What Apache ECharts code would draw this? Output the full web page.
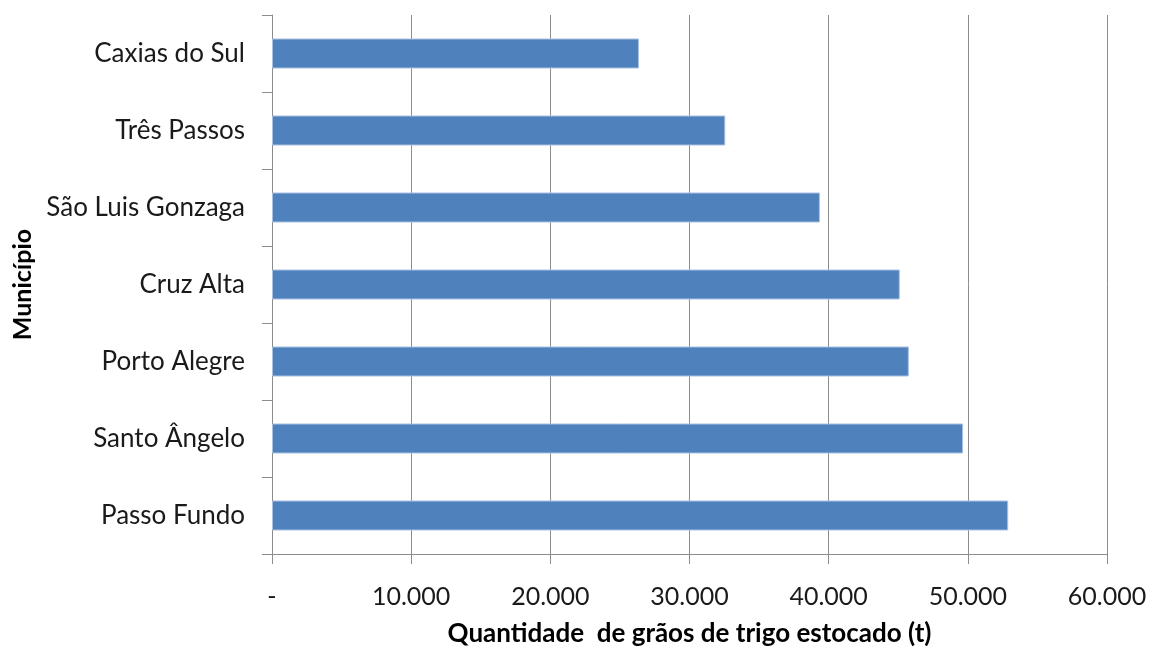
<!DOCTYPE html>
<html><head><meta charset="utf-8">
<script src="https://cdn.jsdelivr.net/npm/echarts@6/dist/echarts.min.js"></script>
<style>html,body{margin:0;padding:0;background:#fff}#c{width:1153px;height:648px}</style>
</head><body><div id="c"></div>
<script>
const categories = ["Passo Fundo","Santo Ângelo","Porto Alegre","Cruz Alta","São Luis Gonzaga","Três Passos","Caxias do Sul"];
const values = [52900, 49660, 45760, 45110, 39370, 32570, 26370];
const xTicks = [0, 10000, 20000, 30000, 40000, 50000, 60000];
const xTitle = "Quantidade  de grãos de trigo estocado (t)";
const yTitle = "Município";

function fmt(v){ if(v===0) return "-"; return String(v).replace(/\B(?=(\d{3})+(?!\d))/g, "."); }
const FONT = "Lato";
const chart = echarts.init(document.getElementById('c'));
chart.setOption({
  animation:false,
  grid:{left:272, top:15, right:46, bottom:94, containLabel:false, outerBoundsMode:'none'},
  xAxis:{
    type:'value', min:xTicks[0], max:xTicks[xTicks.length-1], interval:10000,
    axisLine:{show:true, lineStyle:{color:'#8c8c8c', width:1}},
    axisTick:{show:true, length:10, lineStyle:{color:'#8c8c8c'}},
    splitLine:{show:true, lineStyle:{color:'#8c8c8c', width:1}},
    axisLabel:{formatter:fmt, fontFamily:FONT, fontSize:25, color:'#1a1a1a', margin:30},
    name:xTitle, nameLocation:'middle', nameGap:67,
    nameTextStyle:{fontFamily:FONT, fontWeight:'bold', fontSize:26, color:'#000'}
  },
  yAxis:{
    type:'category', data:categories,
    axisLine:{show:true, lineStyle:{color:'#8c8c8c', width:1}},
    axisTick:{show:true, length:10, lineStyle:{color:'#8c8c8c'}},
    axisLabel:{fontFamily:FONT, fontSize:26, color:'#1a1a1a', margin:27},
    name:yTitle, nameLocation:'middle', nameGap:237, nameRotate:90,
    nameTextStyle:{fontFamily:FONT, fontWeight:'bold', fontSize:25, color:'#000'}
  },
  series:[{
    type:'bar', data:values, barWidth:30,
    itemStyle:{color:'#4f81bd', borderColor:'#a9c1e0', borderWidth:1}
  }]
});
</script></body></html>
